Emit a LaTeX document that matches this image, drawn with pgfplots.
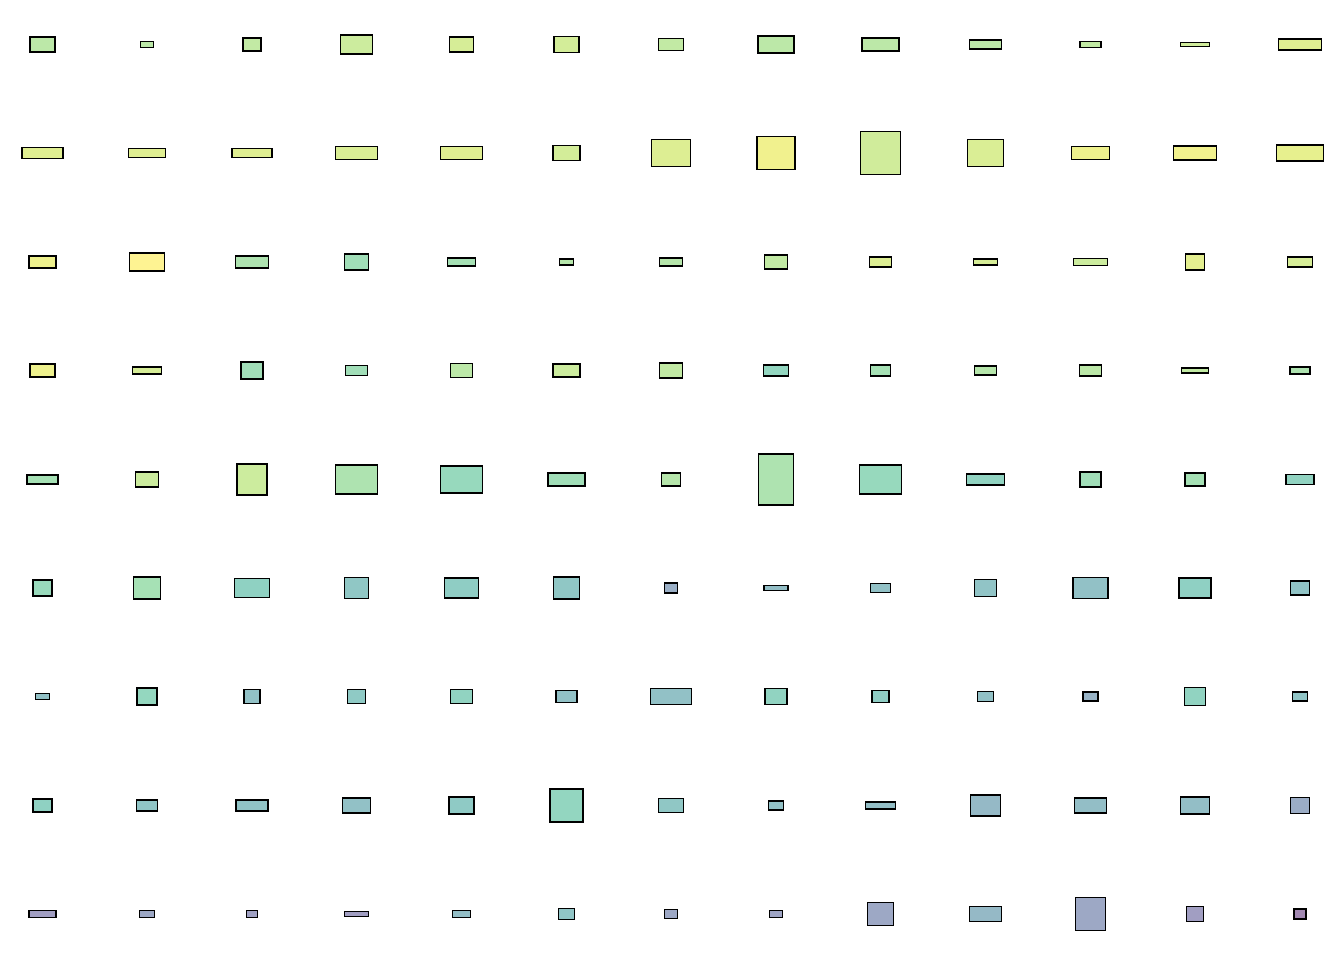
\documentclass[border=0pt]{standalone}
\usepackage{pgfplots}
\usepackage{pgfplotstable}
\pgfplotsset{compat=1.18}

% one row per cell: column, row, box width (px), box height (px), colour value
\pgfplotstableread{
col row w h c
1 1 25 15 0.80
2 1 13 6 0.80
3 1 18 13 0.82
4 1 32 19 0.85
5 1 24 15 0.88
6 1 25 16 0.87
7 1 25 12 0.82
8 1 36 17 0.80
9 1 37 13 0.80
10 1 32 9 0.80
11 1 21 6 0.82
12 1 29 4 0.86
13 1 43 11 0.91
1 2 41 11 0.91
2 2 37 9 0.91
3 2 40 9 0.91
4 2 42 13 0.89
5 2 42 13 0.91
6 2 27 15 0.87
7 2 39 27 0.90
8 2 38 33 0.96
9 2 40 43 0.86
10 2 36 27 0.89
11 2 38 13 0.95
12 2 43 14 0.96
13 2 47 16 0.93
1 3 27 12 0.95
2 3 35 18 1.00
3 3 33 12 0.75
4 3 24 16 0.70
5 3 28 8 0.72
6 3 14 6 0.78
7 3 23 8 0.78
8 3 23 14 0.82
9 3 22 10 0.90
10 3 24 6 0.88
11 3 34 7 0.85
12 3 19 16 0.92
13 3 25 10 0.88
1 4 25 13 0.95
2 4 29 7 0.88
3 4 22 17 0.70
4 4 22 10 0.70
5 4 22 14 0.80
6 4 27 13 0.85
7 4 23 15 0.82
8 4 25 11 0.62
9 4 20 11 0.72
10 4 22 9 0.78
11 4 22 11 0.80
12 4 27 5 0.82
13 4 20 7 0.75
1 5 31 9 0.72
2 5 23 15 0.85
3 5 30 31 0.85
4 5 42 29 0.75
5 5 42 27 0.65
6 5 37 13 0.70
7 5 19 13 0.78
8 5 35 51 0.75
9 5 42 29 0.65
10 5 38 11 0.60
11 5 21 15 0.70
12 5 20 13 0.72
13 5 28 10 0.60
1 6 19 16 0.66
2 6 27 22 0.72
3 6 35 19 0.58
4 6 24 21 0.50
5 6 34 20 0.55
6 6 26 22 0.50
7 6 13 10 0.30
8 6 24 5 0.42
9 6 20 9 0.45
10 6 22 17 0.47
11 6 35 21 0.45
12 6 32 20 0.57
13 6 19 14 0.47
1 7 14 6 0.45
2 7 20 17 0.63
3 7 16 14 0.45
4 7 18 14 0.52
5 7 22 14 0.60
6 7 21 12 0.45
7 7 41 16 0.45
8 7 22 16 0.60
9 7 17 12 0.55
10 7 16 10 0.45
11 7 15 9 0.33
12 7 21 18 0.60
13 7 15 9 0.48
1 8 19 13 0.58
2 8 21 11 0.48
3 8 32 11 0.47
4 8 28 15 0.45
5 8 25 17 0.52
6 8 33 33 0.62
7 8 25 14 0.50
8 8 15 9 0.45
9 8 30 7 0.42
10 8 30 21 0.38
11 8 32 15 0.42
12 8 29 17 0.42
13 8 19 16 0.28
1 9 27 7 0.18
2 9 15 7 0.25
3 9 11 7 0.20
4 9 24 5 0.18
5 9 18 7 0.42
6 9 16 11 0.48
7 9 13 9 0.25
8 9 13 7 0.22
9 9 26 23 0.25
10 9 32 15 0.38
11 9 30 33 0.25
12 9 17 15 0.18
13 9 12 10 0.05
}\cells

\pgfdeclareplotmark{cellbox}{%
  \pgfpathrectangle{\pgfpoint{-0.5*\bw pt}{-0.5*\bh pt}}{\pgfpoint{\bw pt}{\bh pt}}%
  \pgfusepathqfillstroke}

\begin{document}
\begin{tikzpicture}
\begin{axis}[
    scale only axis,
    width=1344pt, height=960pt,
    xmin=0.5964, xmax=13.4208,
    ymin=0.5906, ymax=9.4223,
    y dir=reverse,
    hide axis,
    clip=false,
    colormap/viridis,
    point meta min=0, point meta max=1,
  ]
  \addplot[
      scatter, only marks, mark=cellbox,
      point meta=\thisrow{c},
      visualization depends on={\thisrow{w} \as \bw},
      visualization depends on={\thisrow{h} \as \bh},
      scatter/use mapped color={draw=black, fill=mapped color},
      mark options={line width=1.5pt, fill opacity=0.5},
    ] table[x=col, y=row] {\cells};
  \path (axis cs:0.5964,0.5906) (axis cs:13.4208,9.4223);
\end{axis}
\end{tikzpicture}
\end{document}
